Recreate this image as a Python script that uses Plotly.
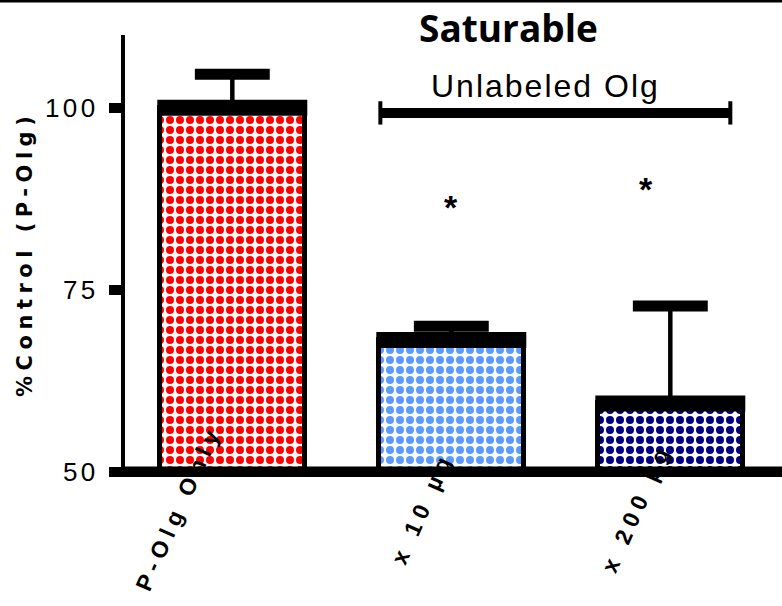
import plotly.graph_objects as go

# Data
categories = ["P-Olg Only", "x 10 µg", "x 200 µg"]
percent_control = [100.0, 68.1, 59.4]
sem = [4.6, 1.9, 13.4]
fill_colors = ["#FF0000", "#5B9BFF", "#000080"]
y_tick_values = [50, 75, 100]
y_tick_labels = [str(v) for v in y_tick_values]

NARROW = "Liberation Sans Narrow, Arial Narrow, Liberation Sans, sans-serif"
BAR_WIDTH = 0.662
EDGE_HALF = BAR_WIDTH / 2 + 0.0114
CAP_HALF = 0.171


def spaced(text, px):
    return f'<span style="letter-spacing:{px}px">{text}</span>'


xs = list(range(len(categories)))

fig = go.Figure()

fig.add_trace(go.Bar(
    x=xs, y=percent_control, width=BAR_WIDTH,
    marker=dict(
        color=fill_colors,
        line=dict(color="black", width=5),
        pattern=dict(shape=".", fgcolor="white", bgcolor=fill_colors,
                     fgopacity=1, size=10, solidity=0.5, fillmode="replace"),
    ),
    showlegend=False, hoverinfo="skip",
))

# Error bar stems
stem_x, stem_y = [], []
for i, (v, e) in enumerate(zip(percent_control, sem)):
    stem_x += [i, i, None]
    stem_y += [v, v + e, None]
fig.add_trace(go.Scatter(x=stem_x, y=stem_y, mode="lines",
                         line=dict(color="black", width=4.5),
                         showlegend=False, hoverinfo="skip"))

# Heavy top edge of each bar
top_x, top_y = [], []
for i, v in enumerate(percent_control):
    top_x += [i - EDGE_HALF, i + EDGE_HALF, None]
    top_y += [v, v, None]
fig.add_trace(go.Scatter(x=top_x, y=top_y, mode="lines",
                         line=dict(color="black", width=16),
                         showlegend=False, hoverinfo="skip"))

# Error bar caps
cap_x, cap_y = [], []
for i, (v, e) in enumerate(zip(percent_control, sem)):
    cap_x += [i - CAP_HALF, i + CAP_HALF, None]
    cap_y += [v + e, v + e, None]
fig.add_trace(go.Scatter(x=cap_x, y=cap_y, mode="lines",
                         line=dict(color="black", width=11),
                         showlegend=False, hoverinfo="skip"))

annotations = []
# Rotated category labels
label_shift = [-54, -29, -34]
for i, (name, dx) in enumerate(zip(categories, label_shift)):
    annotations.append(dict(
        x=i, y=50, xref="x", yref="y", xshift=dx, yshift=-36,
        text="<b>" + spaced(name, 6) + "</b>", textangle=-66, showarrow=False,
        font=dict(family=NARROW, size=23, color="black"),
        xanchor="center", yanchor="middle"))

# Significance asterisks
star_font = dict(family=NARROW, size=34, color="black")
annotations.append(dict(x=1, y=86.4, xref="x", yref="y", text="<b>*</b>",
                        showarrow=False, font=star_font))
annotations.append(dict(x=2, y=88.8, xref="x", yref="y", xshift=-24, text="<b>*</b>",
                        showarrow=False, font=star_font))

# Bracket label
annotations.append(dict(x=1.429, y=103.0, xref="x", yref="y",
                        text=spaced("Unlabeled Olg", 2), showarrow=False,
                        font=dict(family=NARROW, size=32, color="black")))

# Title
annotations.append(dict(x=0.583, y=1.018, xref="paper", yref="paper",
                        text="<b>Saturable</b>", showarrow=False,
                        font=dict(family="Open Sans, Lato, sans-serif", size=37, color="black"),
                        xanchor="center", yanchor="middle"))

# Y axis title
annotations.append(dict(x=-0.152, y=0.505, xref="paper", yref="paper",
                        text="<b>" + spaced("%Control (P-Olg)", 5.5) + "</b>", textangle=-90,
                        showarrow=False,
                        font=dict(family="DejaVu Sans, sans-serif", size=21, color="black"),
                        xanchor="center", yanchor="middle"))

shapes = [
    # baseline at 50
    dict(type="line", xref="paper", yref="y", x0=0, x1=1, y0=50, y1=50,
         line=dict(color="black", width=11)),
    # bracket over treated groups
    dict(type="line", xref="x", yref="y", x0=0.676, x1=2.274, y0=99.3, y1=99.3,
         line=dict(color="black", width=10)),
    dict(type="line", xref="x", yref="y", x0=0.676, x1=0.676, y0=97.7, y1=100.9,
         line=dict(color="black", width=4)),
    dict(type="line", xref="x", yref="y", x0=2.274, x1=2.274, y0=97.7, y1=100.9,
         line=dict(color="black", width=4)),
    # rule across the top of the page
    dict(type="line", xref="paper", yref="paper", x0=-0.2, x1=1, y0=1.0769, y1=1.0769,
         line=dict(color="black", width=3)),
]

fig.update_layout(
    width=782, height=606,
    margin=dict(l=125, r=0, t=35, b=129),
    paper_bgcolor="white", plot_bgcolor="white",
    annotations=annotations, shapes=shapes,
    bargap=0,
)
fig.update_xaxes(range=[-0.49, 2.51], showticklabels=False, showline=False,
                 ticks="", showgrid=False, zeroline=False)
fig.update_yaxes(range=[49.3, 110], tickvals=y_tick_values,
                 ticktext=[spaced(t, 3.5) for t in y_tick_labels],
                 ticks="outside", ticklen=12, tickwidth=10, tickcolor="black",
                 ticklabelstandoff=5,
                 tickfont=dict(family=NARROW, size=26, color="black"),
                 showline=True, linewidth=4, linecolor="black",
                 showgrid=False, zeroline=False)

fig.write_html("out.html")
